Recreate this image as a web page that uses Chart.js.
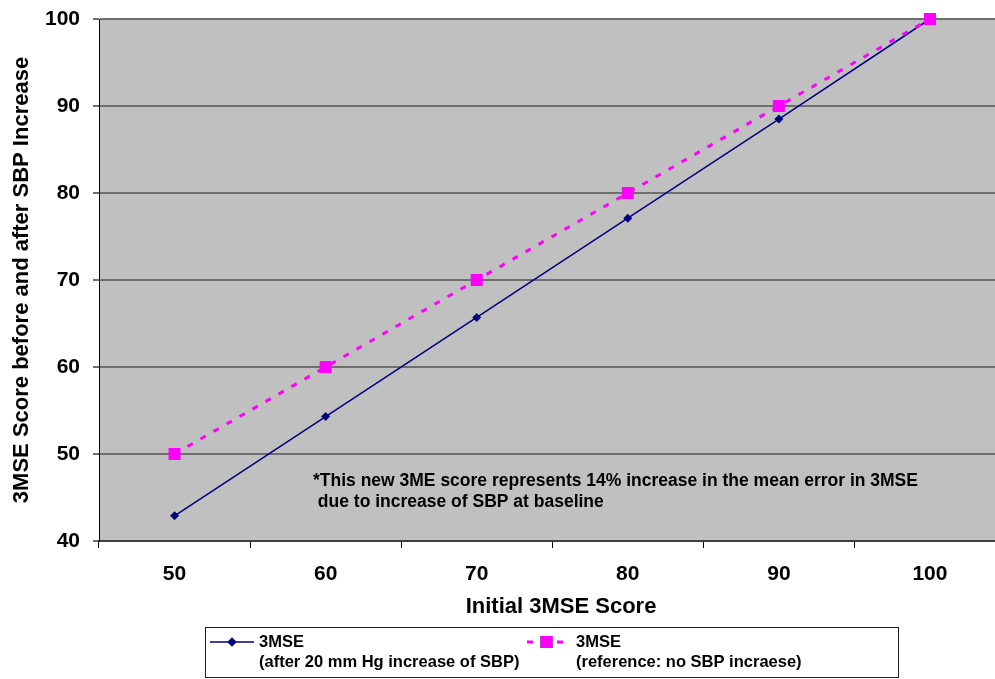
<!DOCTYPE html>
<html>
<head>
<meta charset="utf-8">
<script src="https://cdn.jsdelivr.net/npm/chart.js@4/dist/chart.umd.min.js"></script>
<style>
  html, body { margin: 0; padding: 0; background: #fff; overflow: hidden; }
  #wrap { position: absolute; left: 0; top: 0; width: 1010px; height: 679px; }
</style>
</head>
<body>
<div id="wrap"><canvas id="c"></canvas></div>
<script>
// Initial 3MSE score (category axis)
const categories = ['50', '60', '70', '80', '90', '100'];
// 3MSE after a 20 mm Hg rise in systolic blood pressure
const afterSbp = [42.9, 54.3, 65.7, 77.1, 88.5, 100];
// Reference line: no change in SBP
const referenceScore = [50, 60, 70, 80, 90, 100];
const yTicks = [40, 50, 60, 70, 80, 90, 100];

const legendLabels = [
  ['3MSE', '(after 20 mm Hg increase of SBP)'],
  ['3MSE', '(reference: no SBP incraese)']
];
const noteLines = [
  '*This new 3ME score represents 14% increase in the mean error in 3MSE',
  ' due to increase of SBP at baseline'
];
const xTitle = 'Initial 3MSE Score';
const yTitle = '3MSE Score before and after SBP Increase';

const FONT = "'Liberation Sans', Arial, sans-serif";

// Grey plot background
const plotBackground = {
  id: 'plotBackground',
  beforeDraw(chart) {
    const { ctx, chartArea: a } = chart;
    ctx.save();
    ctx.fillStyle = '#c0c0c0';
    ctx.fillRect(a.left, a.top, a.right - a.left, a.bottom - a.top);
    ctx.restore();
  }
};

// Axis title under the x axis, note inside the plot, boxed legend below
const extras = {
  id: 'extras',
  afterDraw(chart) {
    const { ctx } = chart;
    ctx.save();
    ctx.fillStyle = '#000';
    ctx.textBaseline = 'middle';

    ctx.font = 'bold 22px ' + FONT;
    ctx.textAlign = 'center';
    ctx.fillText(xTitle, 561, 607);

    ctx.font = 'bold 17.5px ' + FONT;
    ctx.textAlign = 'left';
    noteLines.forEach((t, i) => ctx.fillText(t, 313, 481 + i * 21));

    // legend box
    ctx.strokeStyle = '#222';
    ctx.lineWidth = 1;
    ctx.strokeRect(205.5, 627.5, 693, 50);

    const items = [
      { ds: chart.data.datasets[1], x0: 210, x1: 254, textX: 259 },
      { ds: chart.data.datasets[0], x0: 527, x1: 566, textX: 576 }
    ];
    items.forEach((it, i) => {
      const ds = it.ds;
      const y = 642;
      ctx.save();
      ctx.strokeStyle = ds.borderColor;
      ctx.lineWidth = ds.borderWidth;
      ctx.setLineDash(ds.borderDash || []);
      ctx.beginPath();
      ctx.moveTo(it.x0, y);
      ctx.lineTo(it.x1, y);
      ctx.stroke();
      ctx.restore();
      Chart.helpers.drawPoint(ctx, {
        pointStyle: ds.pointStyle,
        radius: ds.pointRadius,
        borderWidth: 0,
        rotation: 0
      }, (it.x0 + it.x1) / 2, y);
      ctx.fillStyle = ds.pointBackgroundColor;
      ctx.fill();
      ctx.fillStyle = '#000';
      ctx.font = 'bold 16.5px ' + FONT;
      legendLabels[i].forEach((t, j) => ctx.fillText(t, it.textX, 642 + j * 20.5));
    });
    ctx.restore();
  }
};

new Chart(document.getElementById('c'), {
  type: 'line',
  data: {
    labels: categories,
    datasets: [
      {
        label: legendLabels[1].join(' '),
        data: referenceScore,
        borderColor: '#ff00ff',
        backgroundColor: '#ff00ff',
        borderWidth: 3,
        borderDash: [6, 9],
        pointStyle: 'rect',
        pointRadius: 8.5,
        pointBackgroundColor: '#ff00ff',
        pointBorderWidth: 0,
        order: 0,
        clip: false
      },
      {
        label: legendLabels[0].join(' '),
        data: afterSbp,
        borderColor: '#000080',
        backgroundColor: '#000080',
        borderWidth: 1.5,
        pointStyle: 'rectRot',
        pointRadius: 4.5,
        pointBackgroundColor: '#000080',
        pointBorderWidth: 0,
        order: 1,
        clip: false
      }
    ]
  },
  options: {
    responsive: true,
    maintainAspectRatio: false,
    animation: false,
    layout: { autoPadding: false, padding: { left: 0, top: 19, right: 4.5, bottom: 0 } },
    plugins: { legend: { display: false }, tooltip: { enabled: false } },
    elements: { line: { tension: 0 } },
    scales: {
      x: {
        type: 'category',
        offset: true,
        grid: {
          offset: true,
          drawOnChartArea: false,
          drawTicks: true,
          tickLength: 7,
          color: '#000',
          lineWidth: 1
        },
        border: { color: '#404040', width: 2 },
        ticks: {
          color: '#000',
          font: { family: FONT, size: 21, weight: 'bold' },
          padding: 14,
          maxRotation: 0
        },
        afterFit(scale) {
          scale.height = 138;
          scale.paddingLeft = 0;
          scale.paddingRight = 0;
        }
      },
      y: {
        min: 40,
        max: 100,
        afterBuildTicks(scale) { scale.ticks = yTicks.map(v => ({ value: v })); },
        grid: {
          color: '#6f6f6f',
          lineWidth: 2,
          drawTicks: true,
          tickLength: 6
        },
        border: { color: '#000', width: 1 },
        ticks: {
          color: '#000',
          font: { family: FONT, size: 21, weight: 'bold' },
          padding: 13
        },
        title: {
          display: true,
          text: yTitle,
          color: '#000',
          font: { family: FONT, size: 22, weight: 'bold' },
          padding: { top: 9, bottom: 0 }
        },
        afterFit(scale) {
          scale.width = 99;
          scale.paddingTop = 0;
          scale.paddingBottom = 0;
        }
      }
    }
  },
  plugins: [plotBackground, extras]
});
</script>
</body>
</html>
